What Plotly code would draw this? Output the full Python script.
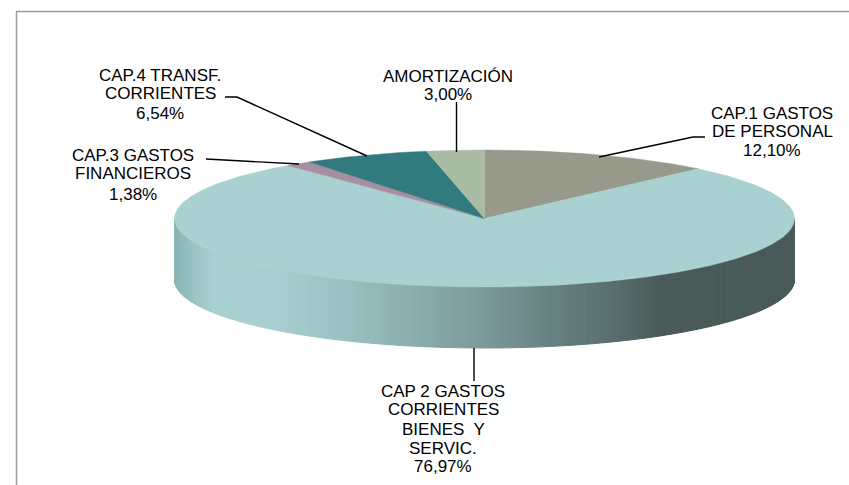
import numpy as np
import plotly.graph_objects as go

categories = [["CAP.1 GASTOS", "DE PERSONAL"],
              ["CAP 2 GASTOS", "CORRIENTES", "BIENES  Y", "SERVIC."],
              ["CAP.3 GASTOS", "FINANCIEROS"],
              ["CAP.4 TRANSF.", "CORRIENTES"],
              ["AMORTIZACIÓN"]]
values = [12.10, 76.97, 1.38, 6.54, 3.00]
value_labels = ["12,10%", "76,97%", "1,38%", "6,54%", "3,00%"]
colors = ["#97998A", "#A9D1D1", "#A88FA0", "#317B7E", "#A9BBA2"]

CX, CY, RX, RY, DEPTH = 484.5, 218.5, 310, 68.5, 61
LABEL_X = [772, 443, 133, 160, 448]
LABEL_Y = [[113, 131, 150], [391, 409, 429, 448, 466], [155, 173, 194], [75, 93, 113], [76, 94]]
LEADERS = [[(705, 137), (693, 137), (599, 157)],
           [(474, 348), (474, 381)],
           [(206, 159), (299, 164)],
           [(225, 97), (237, 97), (367, 156)],
           [(456.5, 102), (456.5, 152)]]

def pt(theta):
    return CX + RX * np.sin(theta), CY - RY * np.cos(theta)

def side_color(x):
    stops = [(175, (140, 182, 182)), (213, (169, 209, 209)), (280, (167, 207, 207)),
             (340, (155, 195, 195)), (480, (124, 155, 155)), (550, (104, 130, 130)),
             (615, (90, 110, 110)), (660, (74, 90, 89)), (795, (74, 90, 89))]
    xs = [s[0] for s in stops]
    rgb = [np.interp(x, xs, [s[1][i] for s in stops]) for i in range(3)]
    return "rgb(%d,%d,%d)" % tuple(rgb)

fig = go.Figure()

# gradient side wall
edges = np.linspace(np.pi / 2, 3 * np.pi / 2, 241)
for a, b in zip(edges[:-1], edges[1:]):
    x1, y1 = pt(a)
    x2, y2 = pt(b)
    c = side_color((x1 + x2) / 2)
    fig.add_trace(go.Scatter(x=[x1, x2, x2, x1, x1], y=[y1, y2, y2 + DEPTH, y1 + DEPTH, y1],
                             mode="lines", fill="toself", fillcolor=c,
                             line=dict(color=c, width=1), hoverinfo="skip", showlegend=False))

# top face wedges
start = 0.0
total = sum(values)
for v, c in zip(values, colors):
    end = start + v / total * 2 * np.pi
    t = np.linspace(start, end, max(int(v * 4), 8))
    xs, ys = pt(t)
    fig.add_trace(go.Scatter(x=np.r_[CX, xs, CX], y=np.r_[CY, ys, CY], mode="lines", fill="toself",
                             fillcolor=c, line=dict(color=c, width=0.5), hoverinfo="skip", showlegend=False))
    start = end

for seg in LEADERS:
    fig.add_trace(go.Scatter(x=[p[0] for p in seg], y=[p[1] for p in seg], mode="lines",
                             line=dict(color="black", width=1.4), hoverinfo="skip", showlegend=False))

# frame
shapes = [dict(type="line", x0=16, x1=849, y0=11.5, y1=11.5, line=dict(color="#9A9A9A", width=1.5)),
          dict(type="line", x0=16.5, x1=16.5, y0=11, y1=485, line=dict(color="#9A9A9A", width=1.5))]

annotations = []
for x, ys, lines, val in zip(LABEL_X, LABEL_Y, categories, value_labels):
    for y, line in zip(ys, lines + [val]):
        annotations.append(dict(x=x, y=y, text=line, showarrow=False, xanchor="center", yanchor="middle",
                                height=18, borderpad=0,
                                font=dict(family="Liberation Sans", size=17, color="black")))

fig.update_layout(width=849, height=485, margin=dict(l=0, r=0, t=0, b=0),
                  paper_bgcolor="white", plot_bgcolor="white", showlegend=False,
                  xaxis=dict(range=[0, 849], visible=False, fixedrange=True),
                  yaxis=dict(range=[485, 0], visible=False, fixedrange=True),
                  shapes=shapes, annotations=annotations)
fig.write_html("out.html", config=dict(displayModeBar=False),
               post_script="document.body.style.margin='0';document.body.style.overflow='hidden';")
